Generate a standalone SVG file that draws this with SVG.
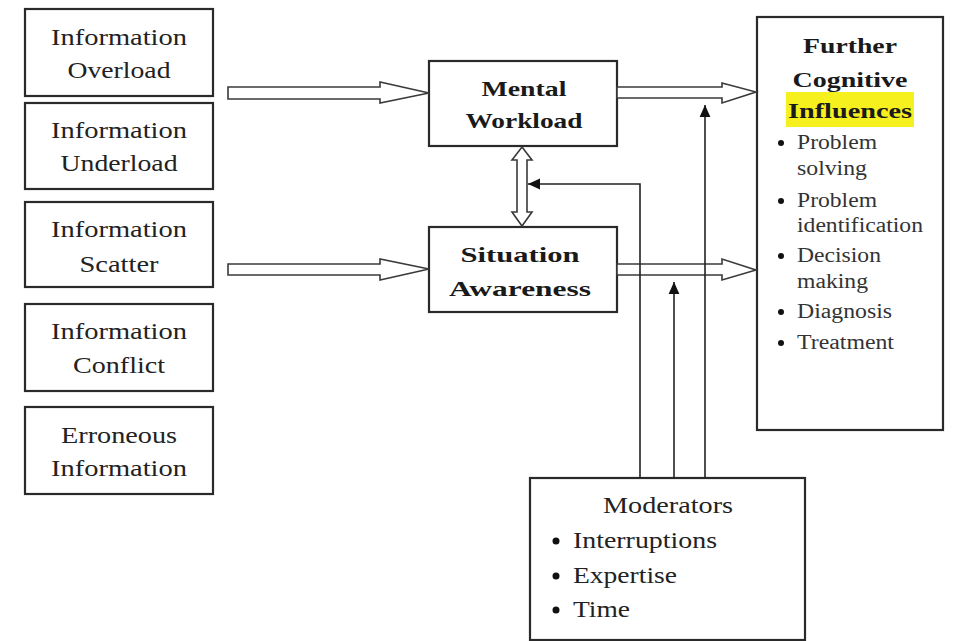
<svg xmlns="http://www.w3.org/2000/svg" width="958" height="641" viewBox="0 0 958 641">
<defs>
<style>
.box{fill:#fff;stroke:#2a2a2a;stroke-width:2.2}
.t{font-family:"Liberation Serif","Times New Roman",serif;font-size:23px;fill:#222;text-anchor:middle}
.b{font-family:"Liberation Serif","Times New Roman",serif;font-size:22px;font-weight:bold;fill:#1a1a1a;text-anchor:middle}
.s{font-family:"Liberation Serif","Times New Roman",serif;font-size:20px;fill:#333}
.m{font-family:"Liberation Serif","Times New Roman",serif;font-size:23px;fill:#222}
.hollow{fill:#fff;stroke:#3a3a3a;stroke-width:1.6;stroke-linejoin:miter}
.line{fill:none;stroke:#222;stroke-width:1.6}
.dot{fill:#111}
</style>
<marker id="ah" viewBox="0 0 10 10" refX="10" refY="5" markerWidth="10" markerHeight="10" markerUnits="userSpaceOnUse" orient="auto">
<path d="M0,0 L10,5 L0,10 z" fill="#111"/>
</marker>
<marker id="ahb" viewBox="0 0 10 10" refX="10" refY="5" markerWidth="12" markerHeight="12" markerUnits="userSpaceOnUse" orient="auto">
<path d="M0,0.5 L10,5 L0,9.5 z" fill="#111"/>
</marker>
</defs>
<rect width="958" height="641" fill="#fff"/>

<g id="info-overload">
<rect class="box" x="25" y="9" width="188" height="87"/>
<text class="t" x="119" y="45" textLength="136" lengthAdjust="spacingAndGlyphs">Information</text>
<text class="t" x="119" y="78" textLength="103" lengthAdjust="spacingAndGlyphs">Overload</text>
</g>
<g id="info-underload">
<rect class="box" x="25" y="103" width="188" height="86"/>
<text class="t" x="119" y="138" textLength="136" lengthAdjust="spacingAndGlyphs">Information</text>
<text class="t" x="119" y="171" textLength="117" lengthAdjust="spacingAndGlyphs">Underload</text>
</g>
<g id="info-scatter">
<rect class="box" x="25" y="202" width="188" height="85"/>
<text class="t" x="119" y="237" textLength="136" lengthAdjust="spacingAndGlyphs">Information</text>
<text class="t" x="119" y="272" textLength="79" lengthAdjust="spacingAndGlyphs">Scatter</text>
</g>
<g id="info-conflict">
<rect class="box" x="25" y="304" width="188" height="87"/>
<text class="t" x="119" y="339" textLength="136" lengthAdjust="spacingAndGlyphs">Information</text>
<text class="t" x="119" y="373" textLength="92" lengthAdjust="spacingAndGlyphs">Conflict</text>
</g>
<g id="erroneous-info">
<rect class="box" x="25" y="407" width="188" height="87"/>
<text class="t" x="119" y="443" textLength="116" lengthAdjust="spacingAndGlyphs">Erroneous</text>
<text class="t" x="119" y="476" textLength="136" lengthAdjust="spacingAndGlyphs">Information</text>
</g>

<g id="mental-workload">
<rect class="box" x="429" y="61" width="188" height="85"/>
<text class="b" x="524" y="96" textLength="85" lengthAdjust="spacingAndGlyphs">Mental</text>
<text class="b" x="524" y="128" textLength="117" lengthAdjust="spacingAndGlyphs">Workload</text>
</g>
<g id="situation-awareness">
<rect class="box" x="429" y="227" width="188" height="85"/>
<text class="b" x="520" y="262" textLength="119" lengthAdjust="spacingAndGlyphs">Situation</text>
<text class="b" x="520" y="296" textLength="142" lengthAdjust="spacingAndGlyphs">Awareness</text>
</g>

<g id="further-cognitive">
<rect class="box" x="757" y="17" width="186" height="413"/>
<rect x="786" y="92" width="128" height="35" fill="#f5f01e"/>
<text class="b" x="850" y="53" textLength="94" lengthAdjust="spacingAndGlyphs">Further</text>
<text class="b" x="850" y="87" textLength="115" lengthAdjust="spacingAndGlyphs">Cognitive</text>
<text class="b" x="850" y="118" textLength="124" lengthAdjust="spacingAndGlyphs">Influences</text>
<circle class="dot" cx="781" cy="143" r="3"/>
<text class="s" x="797" y="149" textLength="80" lengthAdjust="spacingAndGlyphs">Problem</text>
<text class="s" x="797" y="175" textLength="70" lengthAdjust="spacingAndGlyphs">solving</text>
<circle class="dot" cx="781" cy="201" r="3"/>
<text class="s" x="797" y="207" textLength="80" lengthAdjust="spacingAndGlyphs">Problem</text>
<text class="s" x="797" y="232" textLength="126" lengthAdjust="spacingAndGlyphs">identification</text>
<circle class="dot" cx="781" cy="256" r="3"/>
<text class="s" x="797" y="262" textLength="84" lengthAdjust="spacingAndGlyphs">Decision</text>
<text class="s" x="797" y="288" textLength="71" lengthAdjust="spacingAndGlyphs">making</text>
<circle class="dot" cx="781" cy="312" r="3"/>
<text class="s" x="797" y="318" textLength="95" lengthAdjust="spacingAndGlyphs">Diagnosis</text>
<circle class="dot" cx="781" cy="343" r="3"/>
<text class="s" x="797" y="349" textLength="97" lengthAdjust="spacingAndGlyphs">Treatment</text>
</g>

<g id="moderators">
<rect class="box" x="530" y="478" width="275" height="162"/>
<text class="t" x="668" y="513" textLength="130" lengthAdjust="spacingAndGlyphs">Moderators</text>
<circle class="dot" cx="556" cy="541" r="3.5"/>
<text class="m" x="573" y="548" textLength="144" lengthAdjust="spacingAndGlyphs">Interruptions</text>
<circle class="dot" cx="556" cy="576" r="3.5"/>
<text class="m" x="573" y="583" textLength="104" lengthAdjust="spacingAndGlyphs">Expertise</text>
<circle class="dot" cx="556" cy="610" r="3.5"/>
<text class="m" x="573" y="617" textLength="57" lengthAdjust="spacingAndGlyphs">Time</text>
</g>

<g id="connectors">
<polygon class="hollow" points="228,87 380,87 380,82 429,93 380,103 380,99 228,99"/>
<polygon class="hollow" points="228,264 380,264 380,259 429,269 380,280 380,275 228,275"/>
<polygon class="hollow" points="617,87 722,87 722,83 756,92 722,103 722,98 617,98"/>
<polygon class="hollow" points="617,264 722,264 722,259 756,270 722,280 722,275 617,275"/>
<polygon class="hollow" points="522,147 532,160 527,160 527,212 532,212 522,226 512,212 517,212 517,160 512,160"/>
<polyline class="line" points="640,478 640,184 528,184" marker-end="url(#ahb)"/>
<line class="line" x1="674" y1="478" x2="674" y2="282" marker-end="url(#ahb)"/>
<line class="line" x1="705" y1="478" x2="705" y2="105" marker-end="url(#ahb)"/>
</g>
</svg>
